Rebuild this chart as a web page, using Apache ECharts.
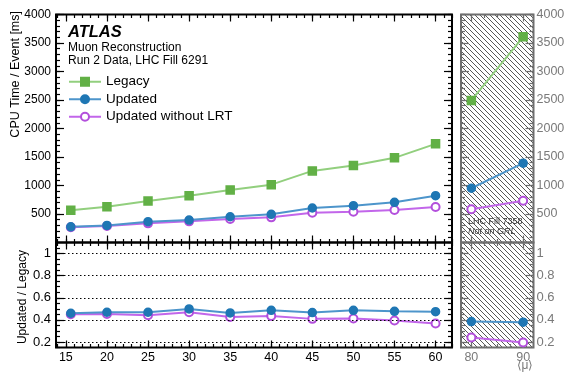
<!DOCTYPE html>
<html><head><meta charset="utf-8">
<script src="https://cdn.jsdelivr.net/npm/echarts@6/dist/echarts.min.js"></script>
<style>html,body{margin:0;padding:0;background:#fff}#c{width:565px;height:372px}</style>
</head><body><div id="c"></div>
<script>
// ---------- data ----------
const muMain = [15.6, 20, 25, 30, 35, 40, 45, 50, 55, 60];
const legacyMain = [565, 628, 728, 822, 922, 1015, 1256, 1349, 1485, 1731];
const updatedMain = [276, 300, 365, 394, 452, 494, 605, 646, 705, 822];
const noLRTMain = [268, 290, 336, 371, 411, 441, 523, 540, 570, 623];
const ratioUpdatedMain = [0.460, 0.469, 0.469, 0.499, 0.463, 0.486, 0.466, 0.486, 0.477, 0.474];
const ratioNoLRTMain = [0.451, 0.454, 0.442, 0.469, 0.427, 0.436, 0.409, 0.412, 0.394, 0.367];

const muExtra = [80, 90];
const legacyExtra = [2493, 3608];
const updatedExtra = [952, 1391];
const noLRTExtra = [582, 734];
const ratioUpdatedExtra = [0.385, 0.379];
const ratioNoLRTExtra = [0.241, 0.196];

const xMainTicks = [15, 20, 25, 30, 35, 40, 45, 50, 55, 60];
const xExtraTicks = [80, 90];
const yCpuTicks = [500, 1000, 1500, 2000, 2500, 3000, 3500, 4000];
const yRatioTicks = [0.2, 0.4, 0.6, 0.8, 1];
const seriesNames = ['Legacy', 'Updated', 'Updated without LRT'];

// ---------- helpers ----------
const FONT = '"Liberation Sans", Arial, Helvetica, sans-serif';
function steps(a, b, s) { const out = []; const n = Math.round((b - a) / s); for (let i = 0; i <= n; i++) out.push(+(a + i * s).toFixed(4)); return out; }

const X_MAIN = [13.8, 62], X_EXTRA = [78, 92], Y_CPU = [0, 4000], Y_RATIO = [0.15, 1.1];
const xMainMinor = steps(14, 62, 1);
const xExtraMinor = steps(80, 90, 2.5);
const yCpuMinor = steps(100, 4000, 100);
const yRatioMinor = steps(0.15, 1.1, 0.05);

function hatch() {
  const s = 5, c = document.createElement('canvas');
  c.width = s; c.height = s;
  const g = c.getContext('2d');
  g.strokeStyle = '#444'; g.lineWidth = 0.9;
  g.beginPath();
  g.moveTo(0, 0); g.lineTo(s, s);
  g.moveTo(-s, 0); g.lineTo(s, 2 * s);
  g.moveTo(0, -s); g.lineTo(2 * s, s);
  g.stroke();
  return c;
}

const grids = [
  {left: 56, top: 14.5, width: 396, height: 228},
  {left: 56, top: 242.5, width: 396, height: 105},
  {left: 461, top: 14.5, width: 72.5, height: 228},
  {left: 461, top: 242.5, width: 72.5, height: 105}
];

const xAxis = [], yAxis = [];
function mk(grid, pos, ext, ticks, len, color, label) {
  const a = {
    type: 'value', gridIndex: grid, position: pos, min: ext[0], max: ext[1], silent: true,
    axisLine: {show: false, onZero: false}, splitLine: {show: false}, minorTick: {show: false},
    axisTick: {show: true, inside: true, length: len, customValues: ticks, lineStyle: {color: color, width: 1.2}},
    axisLabel: {show: false}, axisPointer: {show: false}
  };
  if (label) {
    a.axisLabel = {show: true, customValues: label.values, color: label.color, fontSize: label.size,
      fontFamily: FONT, margin: label.margin, formatter: v => String(+v.toFixed(4)), hideOverlap: false};
  }
  return a;
}
function add(list, a) { list.push(a); return list.length - 1; }

const BLACK = '#000', GRAY = '#6e6e6e', LGRAY = '#7a7a7a';
const ix = {};
// grid 0: main CPU
ix.x0 = add(xAxis, mk(0, 'bottom', X_MAIN, xMainTicks, 7, BLACK));
add(xAxis, mk(0, 'bottom', X_MAIN, xMainMinor, 3.5, BLACK));
add(xAxis, mk(0, 'top', X_MAIN, xMainTicks, 7, BLACK));
add(xAxis, mk(0, 'top', X_MAIN, xMainMinor, 3.5, BLACK));
ix.y0 = add(yAxis, mk(0, 'left', Y_CPU, yCpuTicks, 8, BLACK, {values: yCpuTicks, color: BLACK, size: 12, margin: 5}));
add(yAxis, mk(0, 'left', Y_CPU, yCpuMinor, 4, BLACK));
add(yAxis, mk(0, 'right', Y_CPU, yCpuTicks, 8, BLACK));
add(yAxis, mk(0, 'right', Y_CPU, yCpuMinor, 4, BLACK));
// grid 1: main ratio
ix.x1 = add(xAxis, mk(1, 'bottom', X_MAIN, xMainTicks, 7, BLACK, {values: xMainTicks, color: BLACK, size: 12.5, margin: 4}));
add(xAxis, mk(1, 'bottom', X_MAIN, xMainMinor, 3.5, BLACK));
add(xAxis, mk(1, 'top', X_MAIN, xMainTicks, 7, BLACK));
add(xAxis, mk(1, 'top', X_MAIN, xMainMinor, 3.5, BLACK));
ix.y1 = add(yAxis, mk(1, 'left', Y_RATIO, yRatioTicks, 8, BLACK, {values: yRatioTicks, color: BLACK, size: 13, margin: 5}));
add(yAxis, mk(1, 'left', Y_RATIO, yRatioMinor, 4, BLACK));
add(yAxis, mk(1, 'right', Y_RATIO, yRatioTicks, 8, BLACK));
add(yAxis, mk(1, 'right', Y_RATIO, yRatioMinor, 4, BLACK));
// grid 2: extra CPU
ix.x2 = add(xAxis, mk(2, 'bottom', X_EXTRA, xExtraTicks, 7, GRAY));
add(xAxis, mk(2, 'bottom', X_EXTRA, xExtraMinor, 3.5, GRAY));
add(xAxis, mk(2, 'top', X_EXTRA, xExtraTicks, 7, GRAY));
add(xAxis, mk(2, 'top', X_EXTRA, xExtraMinor, 3.5, GRAY));
ix.y2 = add(yAxis, mk(2, 'right', Y_CPU, yCpuTicks, 8, GRAY, {values: yCpuTicks, color: LGRAY, size: 12.5, margin: 3}));
add(yAxis, mk(2, 'right', Y_CPU, yCpuMinor, 4, GRAY));
add(yAxis, mk(2, 'left', Y_CPU, yCpuTicks, 8, GRAY));
add(yAxis, mk(2, 'left', Y_CPU, yCpuMinor, 4, GRAY));
// grid 3: extra ratio
ix.x3 = add(xAxis, mk(3, 'bottom', X_EXTRA, xExtraTicks, 7, GRAY, {values: xExtraTicks, color: LGRAY, size: 12.5, margin: 4}));
add(xAxis, mk(3, 'bottom', X_EXTRA, xExtraMinor, 3.5, GRAY));
add(xAxis, mk(3, 'top', X_EXTRA, xExtraTicks, 7, GRAY));
add(xAxis, mk(3, 'top', X_EXTRA, xExtraMinor, 3.5, GRAY));
ix.y3 = add(yAxis, mk(3, 'right', Y_RATIO, yRatioTicks, 8, GRAY, {values: yRatioTicks, color: LGRAY, size: 13, margin: 3}));
add(yAxis, mk(3, 'right', Y_RATIO, yRatioMinor, 4, GRAY));
add(yAxis, mk(3, 'left', Y_RATIO, yRatioTicks, 8, GRAY));
add(yAxis, mk(3, 'left', Y_RATIO, yRatioMinor, 4, GRAY));

const STY = {
  'Legacy': {mark: '#62b046', line: '#92cf7e', symbol: 'rect', size: 8},
  'Updated': {mark: '#1f77b4', line: '#4d95cb', symbol: 'circle', size: 8},
  'Updated without LRT': {mark: '#b34fdc', line: '#c266ea', symbol: 'emptyCircle', size: 8}
};
function line(name, xs, ys, xi, yi, extra) {
  const s = STY[name];
  return Object.assign({
    type: 'line', name: name, xAxisIndex: xi, yAxisIndex: yi,
    data: xs.map((x, i) => [x, ys[i]]),
    symbol: s.symbol, symbolSize: s.size, showSymbol: true,
    itemStyle: {color: s.mark, borderColor: s.mark, borderWidth: 1.5},
    lineStyle: {color: s.line, width: 2},
    emphasis: {disabled: true}, animation: false, silent: true
  }, extra || {});
}

const series = [
  line('Legacy', muMain, legacyMain, ix.x0, ix.y0),
  line('Updated without LRT', muMain, noLRTMain, ix.x0, ix.y0),
  line('Updated', muMain, updatedMain, ix.x0, ix.y0),
  line('Updated without LRT', muMain, ratioNoLRTMain, ix.x1, ix.y1, {
    markLine: {silent: true, symbol: ['none', 'none'], label: {show: false}, animation: false,
      lineStyle: {type: [1.5, 2.5], color: '#000', width: 1.2},
      data: yRatioTicks.map(v => ({yAxis: v}))}
  }),
  line('Updated', muMain, ratioUpdatedMain, ix.x1, ix.y1),
  line('Legacy', muExtra, legacyExtra, ix.x2, ix.y2),
  line('Updated without LRT', muExtra, noLRTExtra, ix.x2, ix.y2),
  line('Updated', muExtra, updatedExtra, ix.x2, ix.y2),
  line('Updated without LRT', muExtra, ratioNoLRTExtra, ix.x3, ix.y3),
  line('Updated', muExtra, ratioUpdatedExtra, ix.x3, ix.y3)
];

const pattern = {image: hatch(), repeat: 'repeat'};

const option = {
  animation: false,
  backgroundColor: '#fff',
  grid: grids.map((g, i) => Object.assign({}, g, {
    show: true, containLabel: false, outerBoundsMode: 'none',
    borderColor: i < 2 ? '#000' : GRAY, borderWidth: 2,
    backgroundColor: i < 2 ? 'rgba(0,0,0,0)' : pattern
  })),
  xAxis: xAxis, yAxis: yAxis, series: series,
  legend: {
    orient: 'vertical', left: 68, top: 74, padding: 0, itemWidth: 32, itemHeight: 10, itemGap: 2,
    selectedMode: false, data: seriesNames,
    textStyle: {fontSize: 13.5, fontFamily: FONT, color: '#000', lineHeight: 15.5}
  },
  graphic: [
    {type: 'text', x: 68, y: 32.2, style: {text: 'ATLAS', font: 'italic bold 16.5px ' + FONT, fill: '#000', verticalAlign: 'middle'}},
    {type: 'text', x: 68, y: 47.2, style: {text: 'Muon Reconstruction', font: '12px ' + FONT, fill: '#000', verticalAlign: 'middle'}},
    {type: 'text', x: 68, y: 60.3, style: {text: 'Run 2 Data, LHC Fill 6291', font: '12px ' + FONT, fill: '#000', verticalAlign: 'middle'}},
    {type: 'text', x: 16, y: 11, rotation: Math.PI / 2, style: {text: 'CPU Time / Event [ms]', font: '12.5px ' + FONT, fill: '#000', align: 'right', verticalAlign: 'middle'}},
    {type: 'text', x: 22.8, y: 250, rotation: Math.PI / 2, style: {text: 'Updated / Legacy', font: '12px ' + FONT, fill: '#000', align: 'right', verticalAlign: 'middle'}},
    {type: 'text', x: 468, y: 221.5, style: {text: 'LHC Fill 7358', font: '9px ' + FONT, fill: '#333', verticalAlign: 'middle'}},
    {type: 'text', x: 468, y: 231.7, style: {text: 'Not on GRL', font: 'italic 9px ' + FONT, fill: '#333', verticalAlign: 'middle'}},
    {type: 'text', x: 525, y: 366, style: {text: '\u27E8\u03BC\u27E9', font: '12px ' + FONT, fill: LGRAY, align: 'center', verticalAlign: 'middle'}}
  ]
};

const chart = echarts.init(document.getElementById('c'), null, {renderer: 'canvas'});
chart.setOption(option);
</script></body></html>
